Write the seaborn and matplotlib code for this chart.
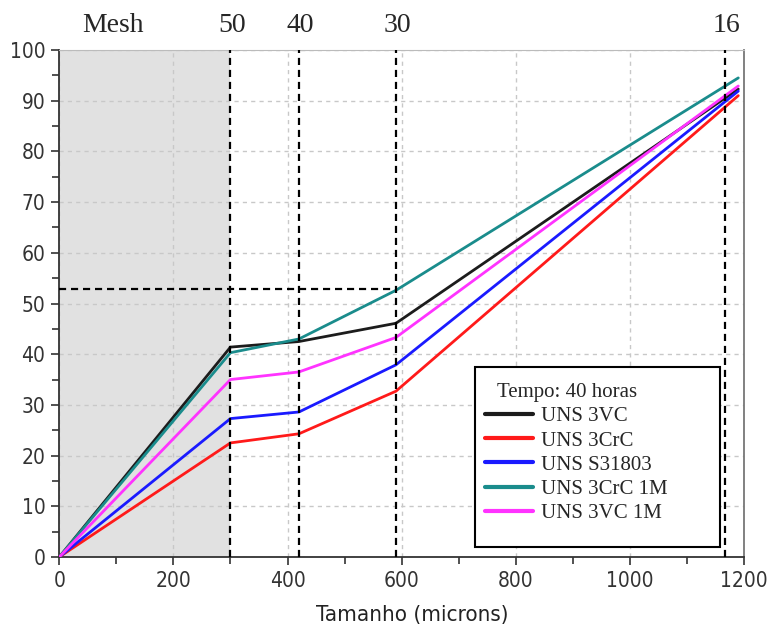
import seaborn as sns
import pandas as pd
import matplotlib.pyplot as plt
from matplotlib.patches import Rectangle
from matplotlib.ticker import MultipleLocator

# sizes (microns) for each sieve
tamanho = [0, 300, 420, 590, 1190]

uns_3vc = [0, 41.4, 42.5, 46.1, 92.3]
uns_3crc = [0, 22.5, 24.3, 32.7, 91.0]
uns_s31803 = [0, 27.3, 28.6, 37.9, 91.9]
uns_3crc_1m = [0, 40.3, 43.0, 52.6, 94.5]
uns_3vc_1m = [0, 35.0, 36.5, 43.3, 92.9]

series_names = ['UNS 3VC', 'UNS 3CrC', 'UNS S31803', 'UNS 3CrC 1M', 'UNS 3VC 1M']
series_colors = ['#1c1c1c', '#ff1a1a', '#1a1aff', '#1a8c8c', '#ff33ff']

mesh_labels = ['50', '40', '30', '16']
mesh_sizes = [300, 420, 590, 1167]
ref_level = 52.8

rows = []
for name, vals in zip(series_names, [uns_3vc, uns_3crc, uns_s31803, uns_3crc_1m, uns_3vc_1m]):
    for x, y in zip(tamanho, vals):
        rows.append({'Tamanho': x, 'Valor': y, 'Serie': name})
df = pd.DataFrame(rows)

sns.set_style('white')
serif = ['Liberation Serif', 'DejaVu Serif']

fig = plt.figure(figsize=(7.67, 6.30), dpi=100)
ax = fig.add_axes([0.0773, 0.1159, 0.8927, 0.8047])

ax.axvspan(0, 300, color='#e1e1e1', zorder=0, lw=0)

sns.lineplot(data=df, x='Tamanho', y='Valor', hue='Serie', palette=series_colors,
             hue_order=series_names, lw=2.0, ax=ax, legend=False, zorder=3)

dash = (0, (3.2, 2.2))
for xm in mesh_sizes:
    ax.plot([xm, xm], [0, 100], color='black', lw=1.6, ls=dash, zorder=4)
ax.plot([0, 590], [ref_level, ref_level], color='black', lw=1.6, ls=dash, zorder=4)

ax.set_xlim(0, 1200)
ax.set_ylim(0, 100)
ax.xaxis.set_major_locator(MultipleLocator(200))
ax.xaxis.set_minor_locator(MultipleLocator(100))
ax.yaxis.set_major_locator(MultipleLocator(10))
ax.yaxis.set_minor_locator(MultipleLocator(5))
ax.grid(True, which='major', color='#c8c8c8', ls=(0, (3, 3)), lw=1.0)
ax.set_axisbelow(True)
ax.tick_params(which='major', direction='out', length=6, width=1.2, color='#333333',
               bottom=True, left=True, labelsize=15, labelcolor='#333333', pad=4)
ax.tick_params(which='minor', direction='out', length=5, width=1.2, color='#333333',
               bottom=True, left=True)
for lab in ax.get_xticklabels() + ax.get_yticklabels():
    lab.set_family('DejaVu Sans')
    lab.set_stretch('condensed')

for side in ['left', 'bottom']:
    ax.spines[side].set_color('#333333')
    ax.spines[side].set_linewidth(1.3)
ax.spines['top'].set_color('#bbbbbb')
ax.spines['right'].set_color('#777777')
ax.spines['right'].set_linewidth(1.3)

ax.set_xlabel('Tamanho (microns)', fontsize=16, family='DejaVu Sans', fontstretch='condensed',
              color='#222222', labelpad=11)
ax.xaxis.set_label_coords(0.515, -0.095)
ax.set_ylabel('')

# mesh numbers on top
ax.text(94, 102.3, 'Mesh', fontsize=20, family=serif, ha='center', va='bottom')
for lab, xm in zip(mesh_labels, mesh_sizes):
    ax.text(xm + 3, 102.3, lab, fontsize=20, family=serif, ha='center', va='bottom')

# legend with a fixed box
ax.add_patch(Rectangle((0.607, 0.02), 0.358, 0.355, transform=ax.transAxes,
                       fill=True, facecolor='white', edgecolor='black', lw=1.5, zorder=5))
ax.text(0.640, 0.325, 'Tempo: 40 horas', transform=ax.transAxes, fontsize=15,
        family=serif, ha='left', va='center', zorder=7)
handles = [plt.Line2D([], [], color=c, lw=3) for c in series_colors]
leg = ax.legend(handles, series_names, loc='upper left',
                bbox_to_anchor=(0.600, 0.325), frameon=False,
                prop={'family': serif, 'size': 15},
                handlelength=2.3, handletextpad=0.4, labelspacing=0.22, borderpad=0.2)
leg.set_zorder(6)

fig.savefig('out.png', dpi=100)
